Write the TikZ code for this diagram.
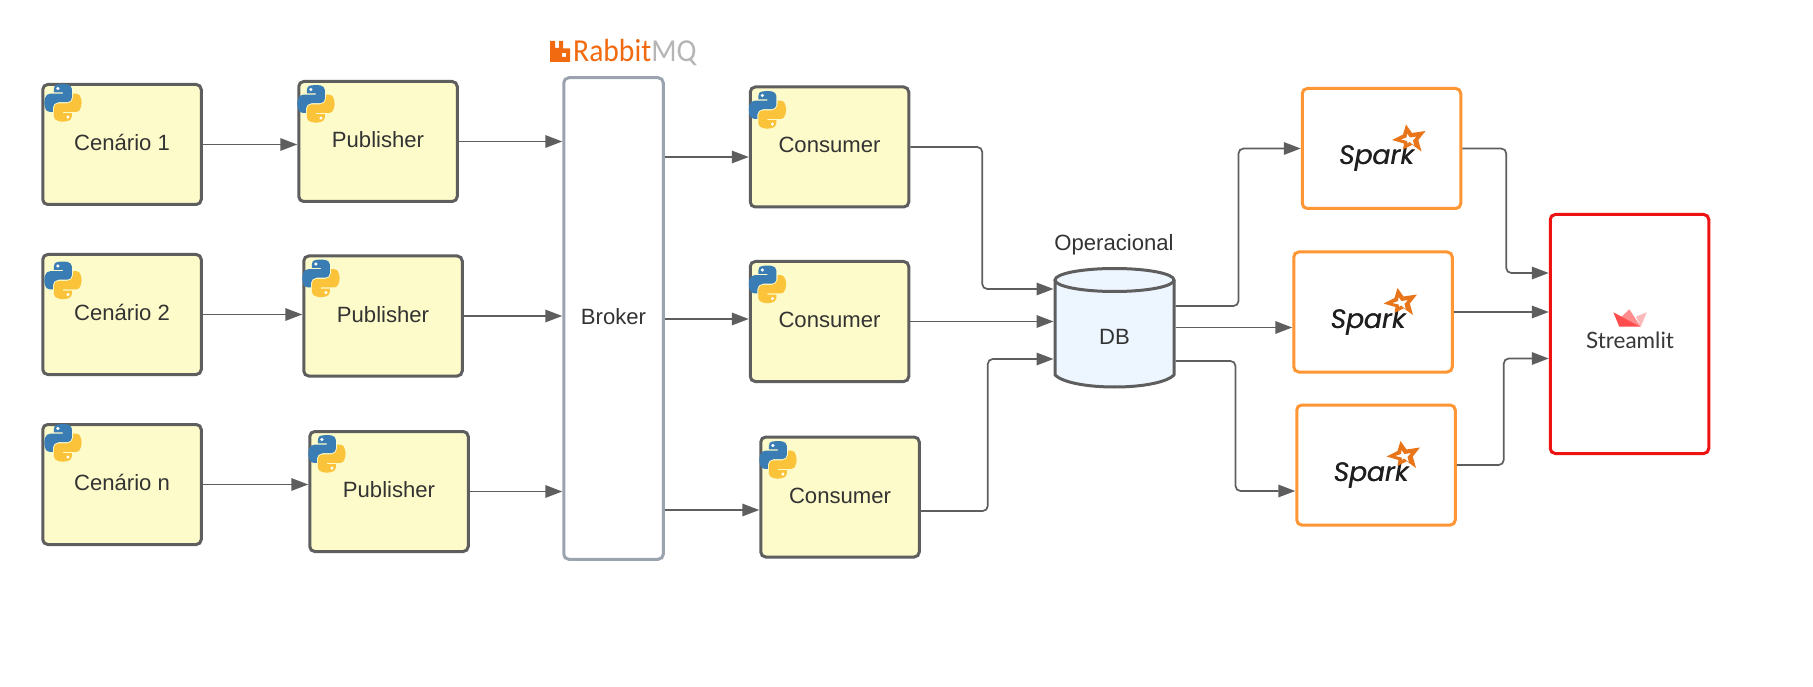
\documentclass[tikz,border=0pt]{standalone}
\usepackage{fontspec}
\setmainfont{Liberation Sans}
\newfontfamily\sparkfont{Poppins}
\newfontfamily\rabbitfont[FakeStretch=0.925]{Carlito}
\newfontfamily\stfont{Lato}
\usetikzlibrary{arrows.meta,svg.path,calc}
\definecolor{linegrey}{HTML}{5E5E5E}
\definecolor{boxfill}{HTML}{FDFBC9}
\definecolor{brokerline}{HTML}{9AA3AF}
\definecolor{sparkline}{HTML}{FF9533}
\definecolor{sparkstar}{HTML}{E8751A}
\definecolor{stred}{HTML}{EE1212}
\definecolor{dbfill}{HTML}{EDF5FF}
\definecolor{txt}{HTML}{333333}
\definecolor{pyblue}{HTML}{3A7DB5}
\definecolor{pyyellow}{HTML}{FBC33A}
\definecolor{rabbitor}{HTML}{F26A0F}
\definecolor{mqgrey}{HTML}{B5B5B5}
\tikzset{
  x=1pt,y=-1pt,
  lbl/.style={font=\fontsize{22.1}{26}\selectfont,text=txt,text height=16pt,text depth=4pt,inner sep=0pt},
  basebox/.style={rectangle,rounded corners=5pt,line width=3pt,minimum width=158.5pt,minimum height=120pt,inner sep=0pt,lbl},
  pybox/.style={basebox,draw=linegrey,fill=boxfill},
  brokerbox/.style={basebox,draw=brokerline,fill=white,minimum width=99.5pt,minimum height=481.5pt},
  sparkbox/.style={basebox,draw=sparkline,fill=white},
  stbox/.style={basebox,draw=stred,fill=white,minimum height=239pt},
  dbbox/.style={rectangle,minimum width=122pt,minimum height=121pt,inner sep=0pt,outer sep=0pt},
  conn/.style={draw=linegrey,line width=1.7pt,rounded corners=5pt,-{Triangle[length=17pt,width=12.5pt,fill=linegrey]}},
  pylogo/.pic={
    \begin{scope}[scale=0.336,yscale=-1]
      \fill[pyblue] svg "M54.919 0.001 c-4.584 0.022 -8.961 0.413 -12.813 1.095 C30.76 3.099 28.7 7.295 28.7 15.032 v10.219 h26.813 v3.406 H28.7 H18.637 c-7.793 0 -14.616 4.684 -16.75 13.594 c-2.462 10.213 -2.571 16.586 0 27.25 c1.906 7.938 6.458 13.594 14.25 13.594 h9.219 v-12.25 c0 -8.85 7.657 -16.656 16.75 -16.656 h26.781 c7.455 0 13.406 -6.138 13.406 -13.625 v-25.531 c0 -7.266 -6.13 -12.725 -13.406 -13.937 C64.282 0.328 59.502 -0.02 54.919 0.001 z";
      \fill[pyyellow] svg "M85.638 28.657 v11.906 c0 9.231 -7.826 17 -16.75 17 h-26.781 c-7.336 0 -13.406 6.278 -13.406 13.625 v25.531 c0 7.266 6.319 11.54 13.406 13.625 c8.487 2.496 16.626 2.947 26.781 0 c6.75 -1.954 13.406 -5.888 13.406 -13.625 v-10.219 h-26.781 v-3.406 h26.781 h13.406 c7.793 0 10.696 -5.436 13.406 -13.594 c2.8 -8.399 2.681 -16.476 0 -27.25 c-1.926 -7.757 -5.604 -13.594 -13.406 -13.594 h-10.062 z";
      \fill[white] svg "M40.419 8.22 c2.77 0 5.031 2.299 5.031 5.125 c0 2.816 -2.262 5.094 -5.031 5.094 c-2.779 0 -5.031 -2.277 -5.031 -5.094 c0 -2.826 2.252 -5.125 5.031 -5.125 z";
      \fill[white] svg "M70.575 93.313 c2.779 0 5.031 2.277 5.031 5.094 c0 2.826 -2.252 5.125 -5.031 5.125 c-2.77 0 -5.031 -2.299 -5.031 -5.125 c0 -2.816 2.262 -5.094 5.031 -5.094 z";
    \end{scope}
  },
  sparklogo/.pic={
    \node[anchor=base,inner sep=0pt,text=black!88,font=\sparkfont\itshape\fontsize{26.5}{30}\selectfont] at (-5,16) {Spark};
    \node[anchor=base,inner sep=0pt,text=black!88,font=\sparkfont\itshape\fontsize{26.5}{30}\selectfont] at (-4.5,16) {Spark};
    \fill[fill=sparkstar,even odd rule]
      (24.5,-24) -- (30.5,-15.5) -- (44,-17.5) -- (36.8,-8.5) -- (40,3) -- (30.8,-3.7) -- (21.5,1) -- (22.5,-5) -- (10.5,-8.5) -- (21.5,-14) -- cycle
      (25.5,-15) -- (28.5,-11) -- (35,-12) -- (31.5,-8) -- (33,-2.5) -- (28,-6.5) -- (26,-5) -- (25.5,-7.5) -- (19,-9) -- (25,-11) -- cycle;
  }
}
\begin{document}
\begin{tikzpicture}
\useasboundingbox (0,0) rectangle (1813,687);
\fill[white] (0,0) rectangle (1813,687);

% scenarios and publishers
\node[pybox] (cen1) at (122,144.5) {Cenário 1};
\node[pybox] (cen2) at (122,314.5) {Cenário 2};
\node[pybox] (cen3) at (122,484.5) {Cenário n};
\node[pybox] (pub1) at (378,141.5) {Publisher};
\node[pybox] (pub2) at (383,316) {Publisher};
\node[pybox] (pub3) at (389,491.5) {Publisher};
% broker
\node[brokerbox] (broker) at (613.5,318.5) {Broker};
% consumers
\node[pybox] (con1) at (829.5,147) {Consumer};
\node[pybox] (con2) at (829.5,321.5) {Consumer};
\node[pybox] (con3) at (840,497) {Consumer};
% database
\draw[draw=linegrey,fill=dbfill,line width=3pt,line join=round]
  (1055,280) -- (1055,375) .. controls (1062,382) and (1085,387) .. (1114.5,387) .. controls (1144,387) and (1167,382) .. (1174,375) -- (1174,280);
\draw[draw=linegrey,fill=dbfill,line width=3pt] (1114.5,280) ellipse [x radius=59.5,y radius=11.5];
\node[dbbox] (db) at (1114.5,327.5) {};
\node[lbl] (dblabel) at (1114.5,338) {DB};
\node[lbl] (oper) at (1114,245) {Operacional};
% spark
\node[sparkbox] (sp1) at (1381.5,148.5) {};
\node[sparkbox] (sp2) at (1373,312) {};
\node[sparkbox] (sp3) at (1376,465) {};
% streamlit
\node[stbox] (st) at (1629.5,334) {};

% python logos
\pic at ([shift={(3,1)}]cen1.north west) {pylogo};
\pic at ([shift={(3,8.5)}]cen2.north west) {pylogo};
\pic at ([shift={(3,1)}]cen3.north west) {pylogo};
\pic at ([shift={(0,5)}]pub1.north west) {pylogo};
\pic at ([shift={(0,5)}]pub2.north west) {pylogo};
\pic at ([shift={(0,5)}]pub3.north west) {pylogo};
\pic at ([shift={(0,5.5)}]con1.north west) {pylogo};
\pic at ([shift={(0,5.5)}]con2.north west) {pylogo};
\pic at ([shift={(0,5.5)}]con3.north west) {pylogo};
% spark logos
\pic at (sp1.center) {sparklogo};
\pic at (sp2.center) {sparklogo};
\pic at (sp3.center) {sparklogo};

% rabbitmq logo
\fill[rabbitor,even odd rule]
  (550,41) -- (555,41) -- (555,48) -- (559,48) -- (559,41) -- (563,41) -- (563,48.5) -- (570,48.5) -- (570,62) -- (550,62) -- cycle
  (562,53) rectangle (566,57);
\node[anchor=base west,inner sep=0pt,font=\rabbitfont\fontsize{32}{36}\selectfont] (rabbit) at (573,61.7) {\textcolor{rabbitor}{Rabbit}\textcolor{mqgrey}{MQ}};

% streamlit logo
\fill[fill=stred!30!white] (1646.7,312.3) -- (1640.7,326.7) -- (1636,316.7) -- cycle;
\fill[fill=red!45!white] (1621.7,316.7) -- (1629.3,309.3) -- (1640.7,326.7) -- cycle;
\fill[fill=red!70!white] (1613.3,312.3) -- (1640.7,326.7) -- (1619.3,326.7) -- cycle;
\node[anchor=base,inner sep=0pt,text=black!78,font=\stfont\fontsize{22.5}{26}\selectfont] (stlabel) at (1630,348.4) {Streamlit};

% connectors
\draw[conn] (cen1.east) -- (cen1.east -| pub1.west);
\draw[conn] (cen2.east) -- (cen2.east -| pub2.west);
\draw[conn] (cen3.east) -- (cen3.east -| pub3.west);
\draw[conn] (pub1.east) -- (pub1.east -| broker.west);
\draw[conn] (pub2.east) -- (pub2.east -| broker.west);
\draw[conn] (pub3.east) -- (pub3.east -| broker.west);
\draw[conn] ([yshift=-10pt]con1.west -| broker.east) -- ([yshift=-10pt]con1.west);
\draw[conn] ([yshift=2.5pt]con2.west -| broker.east) -- ([yshift=2.5pt]con2.west);
\draw[conn] ([yshift=-13pt]con3.west -| broker.east) -- ([yshift=-13pt]con3.west);
\draw[conn] (con1.east) -- ++(72,0) |- ([yshift=38.5pt]db.west);
\draw[conn] (con2.east) -- (con2.east -| db.west);
\draw[conn] ([yshift=-14pt]con3.east) -- ++(67,0) |- ([yshift=-31.5pt]db.west);
\draw[conn] ([yshift=21.5pt]db.east) -- ++(63,0) |- (sp1.west);
\draw[conn] (db.east) -- (db.east -| sp2.west);
\draw[conn] ([yshift=-33.5pt]db.east) -- ++(60,0) |- ([yshift=-26pt]sp3.west);
\draw[conn] (sp1.east) -- ++(44,0) |- ([yshift=61pt]st.west);
\draw[conn] (sp2.east) -- (sp2.east -| st.west);
\draw[conn] (sp3.east) -- ++(47,0) |- ([yshift=-24.5pt]st.west);
\end{tikzpicture}
\end{document}
